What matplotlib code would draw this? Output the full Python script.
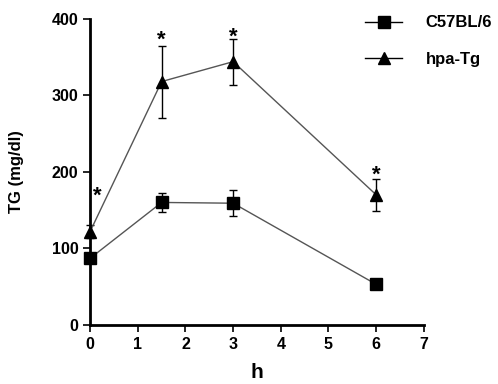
import matplotlib.pyplot as plt
from matplotlib.lines import Line2D

plt.rcParams['font.family'] = ['Liberation Sans', 'DejaVu Sans']
plt.rcParams['font.weight'] = 'bold'

hours = [0, 1.5, 3, 6]
c57_mean = [87, 160, 159, 53]
c57_err = [4, 12, 17, 5]
hpa_mean = [122, 318, 344, 170]
hpa_err = [8, 47, 30, 21]
star_x = [0.15, 1.5, 3, 6]
star_y = [168, 372, 376, 195]

fig = plt.figure(figsize=(4.98, 3.84), dpi=100)
ax = fig.add_axes([0.181, 0.154, 0.67, 0.797])

ax.errorbar(hours, c57_mean, yerr=c57_err, color='#555555', lw=1,
            marker='s', ms=9, mfc='black', mec='black',
            ecolor='black', elinewidth=1, capsize=3, clip_on=False)
ax.errorbar(hours, hpa_mean, yerr=hpa_err, color='#555555', lw=1,
            marker='^', ms=9, mfc='black', mec='black',
            ecolor='black', elinewidth=1, capsize=3, clip_on=False)

for x, y in zip(star_x, star_y):
    ax.text(x, y, '*', ha='center', va='center', fontsize=16, fontweight='bold')

ax.set_xlim(0, 7)
ax.set_ylim(0, 400)
ax.set_xticks(range(8))
ax.set_yticks([0, 100, 200, 300, 400])
ax.spines['top'].set_visible(False)
ax.spines['right'].set_visible(False)
ax.spines['left'].set_linewidth(2)
ax.spines['bottom'].set_linewidth(2)
ax.tick_params(direction='out', length=5, width=1.2, labelsize=11.5)
ax.set_xlabel('h', fontsize=15, fontweight='bold', labelpad=8)
ax.set_ylabel('TG (mg/dl)', fontsize=12, fontweight='bold', labelpad=20)

handles = [Line2D([], [], color='black', lw=1, marker='s', ms=9),
           Line2D([], [], color='black', lw=1, marker='^', ms=9)]
ax.legend(handles, ['C57BL/6', 'hpa-Tg'], loc='upper left',
          bbox_to_anchor=(0.78, 1.06), frameon=False, fontsize=12,
          handlelength=2.2, labelspacing=1.3, handletextpad=1.4)

fig.savefig('out.png', dpi=100)
